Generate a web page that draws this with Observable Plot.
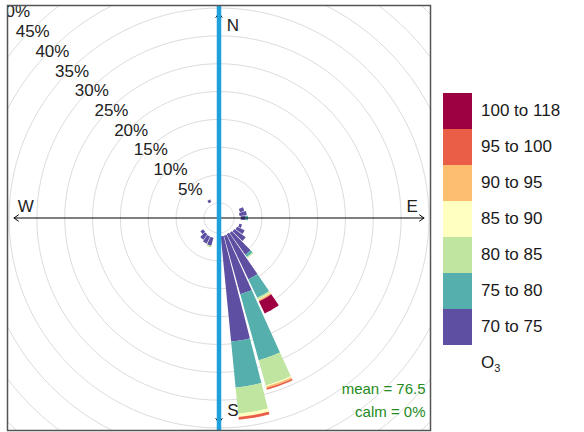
<!DOCTYPE html>
<html><head><meta charset="utf-8">
<script src="https://cdn.jsdelivr.net/npm/d3@7"></script>
<script src="https://cdn.jsdelivr.net/npm/@observablehq/plot@0.6"></script>
<style>
body{margin:0;background:#fff;font-family:"Liberation Sans",Arial,sans-serif;}
#wrap{position:relative;width:584px;height:432px;}
#legend{position:absolute;left:443px;top:93px;}
.row{display:flex;align-items:center;height:36px;}
.sw{width:29px;height:36px;}
.lab{margin-left:9px;font-size:17px;color:#1a1a1a;}
.pol{margin-left:38px;margin-top:8px;font-size:17px;color:#1a1a1a;}
</style></head><body><div id="wrap"><div id="chart"></div><div id="legend"></div></div>
<script>
// ---- data (percent frequency by wind direction and O3 band) ----
const directions = [70, 80, 90, 110, 120, 130, 140, 150, 160, 170, 200, 210, 220, 230, 330];
const below70   = [1.2, 1.0, 1.2, 1.1, 0.9, 0.7, 0.6, 0.5, 0.6, 0.6, 1.0, 1.0, 0.9, 0.8, 0.5];
const o3_70_75  = [0.8, 1.3, 0.8, 0.5, 1.5, 2.5, 4.8, 9.0, 10.9, 19.0, 1.5, 1.4, 1.2, 0.6, 0.5];
const o3_75_80  = [0, 0, 0.5, 0, 0, 0, 0.5, 3.7, 12.3, 8.3, 0, 0, 0, 0, 0];
const o3_80_85  = [0, 0, 0, 0, 0, 0, 0.2, 0.3, 4.7, 4.7, 0.3, 0, 0, 0, 0];
const o3_85_90  = [0, 0, 0, 0, 0, 0, 0, 0.1, 0.2, 0.6, 0, 0, 0, 0, 0];
const o3_90_95  = [0, 0, 0, 0, 0, 0, 0, 0.3, 0.3, 0, 0, 0, 0, 0, 0];
const o3_95_100 = [0, 0, 0, 0, 0, 0, 0, 0, 0.3, 0.5, 0, 0, 0, 0, 0];
const o3_100_118= [0, 0, 0, 0, 0, 0, 0, 2.4, 0, 0, 0, 0, 0, 0, 0];
const bandLabels = ["70 to 75", "75 to 80", "80 to 85", "85 to 90", "90 to 95", "95 to 100", "100 to 118"];
const bandColors = ["#5E4FA2", "#55AFAD", "#BFE5A0", "#FFFFBF", "#FDBF6F", "#EA5D47", "#9E0142"];
const ringPcts = [0, 5, 10, 15, 20, 25, 30, 35, 40, 45, 50];
const ringLabelPcts = [5, 10, 15, 20, 25, 30, 35, 40, 45, 50];
const compass = [{label: "N", dir: 0}, {label: "E", dir: 90}, {label: "S", dir: 180}, {label: "W", dir: 270}];
const meanValue = 76.5, calmPct = 0;

// ---- geometry helpers ----
const offset = 2.7;      // inner hole, in percent units
const halfWidth = 4.4;   // half sector width (deg)
const axisLen = 36.8;    // compass axis half length
const rad = Math.PI / 180;
const px = (u, a) => u * Math.sin(a * rad);
const py = (u, a) => u * Math.cos(a * rad);

const bands = [o3_70_75, o3_75_80, o3_80_85, o3_85_90, o3_90_95, o3_95_100, o3_100_118];
const wedgePts = [];
directions.forEach((d, i) => {
  let cum = below70[i];
  bands.forEach((arr, j) => {
    const v = arr[i];
    if (v > 0) {
      const lo = offset + cum, hi = offset + cum + v, id = d + "-" + j;
      const n = 8;
      for (let s = 0; s <= n; s++) { const a = d - halfWidth + 2 * halfWidth * s / n; wedgePts.push({id, band: bandLabels[j], x: px(hi, a), y: py(hi, a)}); }
      for (let s = n; s >= 0; s--) { const a = d - halfWidth + 2 * halfWidth * s / n; wedgePts.push({id, band: bandLabels[j], x: px(lo, a), y: py(lo, a)}); }
    }
    cum += v;
  });
});

const ringPts = [];
ringPcts.forEach(p => { for (let a = 0; a <= 360; a += 3) ringPts.push({ring: p, x: px(offset + p, a), y: py(offset + p, a)}); });

const k = 5.57; // pixels per percent unit
const W = 584, H = 432, mL = 7, mR = 154, mT = 5, mB = 2;
const xHalf = (W - mL - mR) / 2 / k, yHalf = (H - mT - mB) / 2 / k;

const chart = Plot.plot({
  width: W, height: H, marginLeft: mL, marginRight: mR, marginTop: mT, marginBottom: mB,
  x: {domain: [-xHalf, xHalf], axis: null},
  y: {domain: [-yHalf, yHalf], axis: null},
  color: {type: "ordinal", domain: bandLabels, range: bandColors},
  style: {fontFamily: "'Liberation Sans', Arial, sans-serif", background: "white"},
  marks: [
    Plot.line(ringPts, {x: "x", y: "y", z: "ring", stroke: "#dcdcdc", strokeWidth: 1, clip: true}),
    Plot.line(wedgePts, {x: "x", y: "y", z: "id", fill: "band", stroke: "none"}),
    Plot.arrow(compass, {x1: () => 0, y1: () => 0, x2: d => px(axisLen, d.dir), y2: d => py(axisLen, d.dir), stroke: "black", strokeWidth: 1, headLength: 8, headAngle: 70}),
    Plot.ruleX([0], {stroke: "#1EA0DC", strokeWidth: 4.5}),
    Plot.text(ringLabelPcts, {x: p => px(offset + p - 0.4, 315), y: p => py(offset + p - 0.4, 315), text: p => p + "%", fontSize: 17, fill: "#222", clip: true}),
    Plot.text(compass, {x: d => d.dir === 0 || d.dir === 180 ? 2.5 : px(axisLen - 2.1, d.dir), y: d => d.dir === 0 || d.dir === 180 ? py(axisLen - 2.3, d.dir) : 2.1, text: "label", fontSize: 17, fill: "#222"}),
    Plot.text([`mean = ${meanValue}`], {frameAnchor: "bottom-right", dx: -5, dy: -37, textAnchor: "end", fontSize: 15, fill: "forestgreen"}),
    Plot.text([`calm = ${calmPct}%`], {frameAnchor: "bottom-right", dx: -5, dy: -14, textAnchor: "end", fontSize: 15, fill: "forestgreen"}),
    Plot.frame({stroke: "#555", strokeWidth: 1.5})
  ]
});
document.getElementById("chart").appendChild(chart);

const leg = document.getElementById("legend");
bandLabels.slice().reverse().forEach((lab, i) => {
  const c = bandColors[bandLabels.length - 1 - i];
  const row = document.createElement("div"); row.className = "row";
  row.innerHTML = `<div class="sw" style="background:${c}"></div><div class="lab">${lab}</div>`;
  leg.appendChild(row);
});
const pol = document.createElement("div"); pol.className = "pol"; pol.innerHTML = "O<sub style='font-size:11px'>3</sub>";
leg.appendChild(pol);
</script></body></html>
